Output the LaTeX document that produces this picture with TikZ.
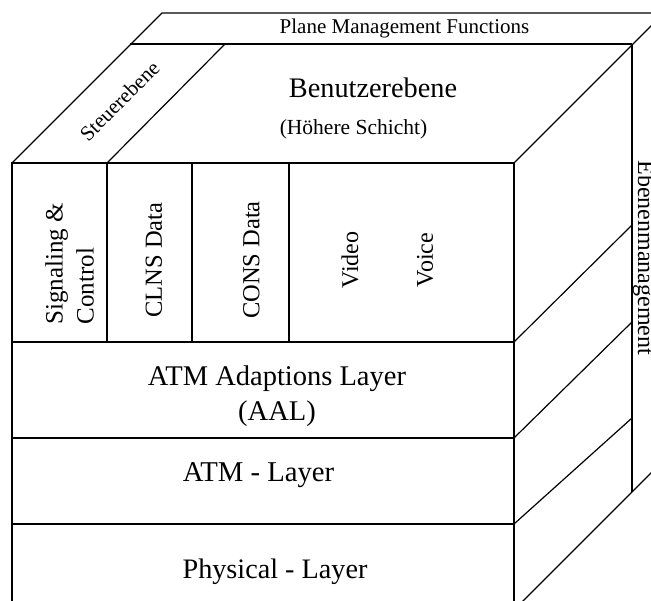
\documentclass[tikz,border=0pt]{standalone}
\usepackage{fontspec}
\setmainfont{Liberation Serif}
\newcommand\fsz[2]{\fontsize{#1}{#2}\selectfont}
\begin{document}
\begin{tikzpicture}[x=1pt,y=-1pt,line width=1.2pt,
  edge/.style={draw=black},
  lbl/.style={inner sep=0pt,text=black}]
\useasboundingbox (0,0) rectangle (651,601);
\clip (0,0) rectangle (651,601);
% corners
\coordinate (FTL) at (12,163);
\coordinate (FTR) at (514,163);
\coordinate (FBL) at (12,620);
\coordinate (FBR) at (514,610);
\coordinate (BTL) at (162,13);
\coordinate (BTR) at (680,13);
\coordinate (PL)  at (130,44);
\coordinate (PR)  at (632,44);
\coordinate (SF)  at (107,163);
\coordinate (SB)  at (225,44);
\coordinate (RB)  at (632,492);
% front face
\draw[edge] (FBL) -- (FTL) -- (FTR) -- (FBR);
\coordinate (L1) at (12,342); \coordinate (R1) at (514,342);
\coordinate (L2) at (12,438); \coordinate (R2) at (514,438);
\coordinate (L3) at (12,524); \coordinate (R3) at (514,524);
\draw[edge] (L1) -- (R1);
\draw[edge] (L2) -- (R2);
\draw[edge] (L3) -- (R3);
% column dividers
\coordinate (C1t) at (107,163); \coordinate (C1b) at (107,342);
\coordinate (C2t) at (192,163); \coordinate (C2b) at (192,342);
\coordinate (C3t) at (289,163); \coordinate (C3b) at (289,342);
\draw[edge] (C1t) -- (C1b);
\draw[edge] (C2t) -- (C2b);
\draw[edge] (C3t) -- (C3b);
% top face
\draw[edge] (FTL) -- (BTL) -- (BTR);
\draw[edge] (PL) -- (PR);
\draw[edge] (SF) -- (SB);
\draw[edge] (FTR) -- ++(170,-170);
% right face
\draw[edge] (PR) -- (RB);
\coordinate (E1) at (632,225);
\coordinate (E2) at (632,322);
\coordinate (E3) at (632,418);
\draw[edge] (R1) -- (E1);
\draw[edge] (R2) -- (E2);
\draw[edge] (R3) -- (E3);
\draw[edge] (FBR) -- ++(170,-170);
% texts
\node[lbl,anchor=base,font=\fsz{21}{25}] (pmf) at (404.5,34) {Plane Management Functions};
\node[lbl,rotate=45,font=\fsz{21}{25}] (steuer) at (119.5,101) {Steuerebene};
\node[lbl,anchor=base,font=\fsz{28.3}{34}] (benutzer) at (373,98) {Benutzerebene};
\node[lbl,anchor=base,font=\fsz{21.5}{26}] (hoeher) at (353.5,135) {(Höhere Schicht)};
\node[lbl,rotate=90,anchor=west,align=left,font=\fsz{25}{31}] (sig) at (69.5,325) {Signaling \&\\Control};
\node[lbl,rotate=90,font=\fsz{24.5}{29}] (clns) at (154,260) {CLNS Data};
\node[lbl,rotate=90,font=\fsz{24.5}{29}] (cons) at (251.5,260) {CONS Data};
\node[lbl,rotate=90,font=\fsz{24}{29}] (video) at (350,260) {Video};
\node[lbl,rotate=90,font=\fsz{24}{29}] (voice) at (425,260) {Voice};
\node[lbl,align=center,font=\fsz{28.5}{35}] (aal) at (277,396.5) {ATM Adaptions Layer\\(AAL)};
\node[lbl,anchor=base,font=\fsz{28.7}{34}] (atm) at (258.5,482) {ATM - Layer};
\node[lbl,anchor=base,font=\fsz{28.2}{34}] (phy) at (275,578) {Physical - Layer};
\node[lbl,rotate=-90,anchor=base west,font=\fsz{24}{29}] (ebenen) at (638,160) {Ebenenmanagement};
\end{tikzpicture}
\end{document}
